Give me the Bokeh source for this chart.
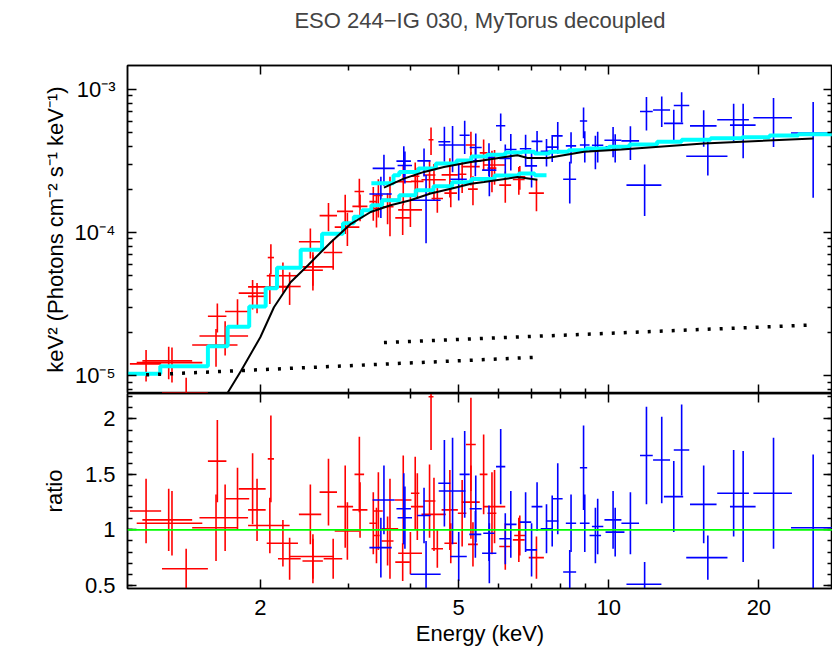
from bokeh.plotting import figure
from bokeh.layouts import column
from bokeh.models import Range1d, LogAxis, LinearAxis, FixedTicker, CustomJSTickFormatter, Span, Title
from bokeh.embed import file_html
from bokeh.resources import INLINE

FONT = "Liberation Sans"

# ---------------- data ----------------
# red data set: energy (keV), half bin width, ratio, ratio error, model level in the bin
red_e = [1.18, 1.31, 1.33, 1.42, 1.64, 1.63, 1.70, 1.80, 1.93, 1.97, 2.09, 2.10, 2.22, 2.29, 2.52,
         2.55, 2.55, 2.74, 2.80, 2.96, 2.99, 3.16, 3.17, 3.37, 3.42, 3.45, 3.60, 3.64, 3.86, 3.87,
         4.00, 4.09, 4.13, 4.37, 4.40, 4.46, 4.53, 4.80, 4.82, 5.08, 5.29, 5.29, 5.34, 5.61, 5.83,
         5.90, 6.20, 6.60, 6.63, 7.16]
red_de = [0.085, 0.15, 0.20, 0.15, 0.07, 0.17, 0.19, 0.10, 0.12, 0.08, 0.20, 0.03, 0.16, 0.12, 0.13,
          0.26, 0.12, 0.11, 0.12, 0.11, 0.17, 0.07, 0.11, 0.06, 0.05, 0.07, 0.10, 0.14, 0.13, 0.15,
          0.22, 0.08, 0.12, 0.12, 0.05, 0.25, 0.12, 0.18, 0.14, 0.10, 0.22, 0.12, 0.12, 0.10, 0.12,
          0.30, 0.17, 0.18, 0.17, 0.25]
red_ratio = [1.17, 1.09, 1.06, 0.65, 1.62, 1.02, 1.11, 1.28, 1.37, 1.18, 1.04, 1.64, 0.88, 0.74, 1.14,
             0.76, 0.72, 1.34, 0.74, 1.21, 0.99, 1.50, 1.18, 1.06, 0.95, 1.17, 0.90, 1.01, 0.71, 1.27,
             0.79, 1.33, 1.21, 1.26, 2.20, 1.14, 0.83, 1.18, 0.88, 1.15, 1.25, 1.77, 0.87, 1.50, 1.15,
             1.21, 0.85, 0.91, 0.95, 0.75]
red_dr = [0.29, 0.28, 0.29, 0.18, 0.37, 0.30, 0.30, 0.28, 0.32, 0.28, 0.25, 0.39, 0.21, 0.19, 0.27,
          0.20, 0.20, 0.30, 0.18, 0.37, 0.26, 0.34, 0.25, 0.28, 0.25, 0.35, 0.22, 0.45, 0.17, 0.40,
          0.19, 0.33, 0.30, 0.33, 0.48, 0.33, 0.17, 0.36, 0.18, 0.30, 0.33, 0.42, 0.20, 0.36, 0.37,
          0.33, 0.21, 0.20, 0.18, 0.19]
red_model = [1.03e-5, 1.16e-5, 1.16e-5, 1.16e-5, 1.60e-5, 1.60e-5, 1.70e-5, 2.19e-5, 2.75e-5, 3.03e-5,
             4.00e-5, 4.07e-5, 5.66e-5, 5.66e-5, 7.56e-5, 7.56e-5, 7.56e-5, 9.79e-5, 9.79e-5, 1.16e-4,
             1.10e-4, 1.29e-4, 1.29e-4, 1.55e-4, 1.55e-4, 1.55e-4, 1.68e-4, 1.68e-4, 1.78e-4, 1.78e-4,
             1.82e-4, 1.86e-4, 1.88e-4, 2.00e-4, 2.02e-4, 2.05e-4, 2.08e-4, 2.14e-4, 2.14e-4, 2.22e-4,
             2.31e-4, 2.31e-4, 2.31e-4, 2.40e-4, 2.45e-4, 2.45e-4, 2.52e-4, 2.58e-4, 2.58e-4, 2.51e-4]

# blue data set
blue_e = [3.49, 3.54, 3.88, 3.90, 4.26, 4.30, 4.68, 4.86, 5.00, 5.14, 5.40, 5.41, 5.75, 5.76, 6.07,
          6.20, 6.36, 6.81, 7.00, 7.18, 7.50, 7.70, 7.90, 8.35, 8.40, 8.90, 8.95, 9.40, 9.50, 10.2,
          10.3, 11.05, 11.8, 11.9, 12.77, 13.5, 14.0, 15.5, 15.8, 17.8, 18.6, 21.4, 25.7]
blue_de = [0.18, 0.18, 0.13, 0.13, 0.13, 0.30, 0.13, 0.30, 0.19, 0.12, 0.15, 0.15, 0.15, 0.19, 0.13,
           0.17, 0.17, 0.18, 0.18, 0.18, 0.20, 0.22, 0.18, 0.25, 0.20, 0.15, 0.20, 0.25, 0.25, 0.40,
           0.45, 0.45, 0.95, 0.35, 0.50, 0.60, 0.50, 0.95, 1.50, 1.30, 1.10, 1.90, 2.50]
blue_ratio = [0.84, 1.27, 1.19, 1.11, 1.13, 0.60, 1.42, 1.35, 0.76, 1.50, 0.96, 1.19, 0.97, 0.79, 1.57,
              0.92, 1.05, 1.07, 0.82, 1.21, 1.01, 1.08, 1.28, 0.62, 1.06, 1.56, 1.06, 0.95, 1.03, 1.09,
              0.98, 1.06, 0.51, 1.67, 1.63, 1.30, 1.72, 1.23, 0.75, 1.33, 1.21, 1.33, 1.02]
blue_dr = [0.27, 0.31, 0.32, 0.28, 0.25, 0.30, 0.39, 0.48, 0.22, 0.39, 0.21, 0.30, 0.25, 0.27, 0.34,
           0.23, 0.30, 0.27, 0.24, 0.22, 0.22, 0.23, 0.32, 0.20, 0.26, 0.38, 0.26, 0.25, 0.25, 0.26,
           0.22, 0.28, 0.20, 0.44, 0.39, 0.32, 0.41, 0.35, 0.20, 0.39, 0.50, 0.50, 0.66]
blue_model = [2.21e-4, 2.21e-4, 2.65e-4, 2.65e-4, 2.80e-4, 2.80e-4, 3.03e-4, 3.03e-4, 3.10e-4, 3.19e-4,
              3.30e-4, 3.30e-4, 3.45e-4, 3.45e-4, 3.55e-4, 3.58e-4, 3.62e-4, 3.60e-4, 3.56e-4, 3.58e-4,
              3.66e-4, 3.66e-4, 3.70e-4, 3.80e-4, 3.80e-4, 3.86e-4, 3.86e-4, 3.95e-4, 3.95e-4, 4.05e-4,
              4.05e-4, 4.12e-4, 4.20e-4, 4.20e-4, 4.41e-4, 4.45e-4, 4.49e-4, 4.52e-4, 4.55e-4, 4.61e-4,
              4.65e-4, 4.76e-4, 4.86e-4]

# folded model (cyan steps): bin left edges and levels
red_step_e = [1.08, 1.26, 1.57, 1.72, 1.90, 2.05, 2.16, 2.41, 2.66, 2.93, 3.08, 3.20, 3.34, 3.51,
              3.80, 4.10, 4.45, 4.85, 5.30, 5.90, 6.60, 7.10, 7.50]
red_step_f = [1.03e-5, 1.16e-5, 1.60e-5, 2.19e-5, 3.03e-5, 4.07e-5, 5.66e-5, 7.56e-5, 9.79e-5, 1.16e-4,
              1.29e-4, 1.43e-4, 1.55e-4, 1.68e-4, 1.82e-4, 1.97e-4, 2.10e-4, 2.24e-4, 2.36e-4, 2.50e-4,
              2.58e-4, 2.51e-4, 2.51e-4]
blue_step_e = [3.34, 3.70, 3.80, 4.15, 4.50, 4.95, 5.30, 5.70, 6.20, 6.70, 7.10, 7.60, 8.30, 9.00,
               10.0, 11.0, 12.5, 14.0, 16.0, 18.5, 21.0, 24.0, 28.2]
blue_step_f = [2.21e-4, 2.51e-4, 2.65e-4, 2.80e-4, 3.03e-4, 3.19e-4, 3.40e-4, 3.50e-4, 3.62e-4, 3.66e-4,
               3.56e-4, 3.66e-4, 3.76e-4, 3.86e-4, 3.98e-4, 4.12e-4, 4.30e-4, 4.45e-4, 4.55e-4, 4.63e-4,
               4.76e-4, 4.86e-4, 4.86e-4]

# black model components (solid)
red_comp_e = [1.70, 1.72, 1.83, 2.00, 2.13, 2.30, 2.49, 2.77, 3.04, 3.33, 3.65, 4.00, 4.39, 4.82, 5.29,
              5.62, 6.56, 7.19]
red_comp_f = [7.0e-6, 7.57e-6, 1.08e-5, 1.85e-5, 3.0e-5, 4.49e-5, 5.88e-5, 8.55e-5, 1.15e-4, 1.39e-4,
              1.55e-4, 1.68e-4, 1.87e-4, 2.02e-4, 2.19e-4, 2.25e-4, 2.44e-4, 2.34e-4]
blue_comp_e = [3.54, 3.88, 4.26, 4.67, 5.29, 5.62, 6.56, 6.87, 7.53, 8.92, 10.6, 15.5, 25.75]
blue_comp_f = [2.06e-4, 2.38e-4, 2.65e-4, 2.87e-4, 3.11e-4, 3.20e-4, 3.47e-4, 3.32e-4, 3.32e-4, 3.66e-4,
               3.80e-4, 4.19e-4, 4.54e-4]

# dotted model components
red_dot_e = [1.18, 7.14]
red_dot_f = [1.01e-5, 1.34e-5]
blue_dot_e = [3.54, 25.2]
blue_dot_f = [1.70e-5, 2.25e-5]

x_major = [2, 5, 10, 20]
x_minor = [3, 4, 6, 7, 8, 9]
y_major = [1e-5, 1e-4, 1e-3]
y_minor = [k * 10.0 ** ex for ex in (-6, -5, -4, -3) for k in range(2, 10)]
r_major = [0.5, 1, 1.5, 2]
r_minor = [round(0.5 + 0.1 * i, 1) for i in range(18)]

# ---------------- derived ----------------
red_f = [m * r for m, r in zip(red_model, red_ratio)]
red_df = [m * d for m, d in zip(red_model, red_dr)]
blue_f = [m * r for m, r in zip(blue_model, blue_ratio)]
blue_df = [m * d for m, d in zip(blue_model, blue_dr)]


def style_axis(ax, labels=True):
    ax.major_tick_in = 9
    ax.major_tick_out = 0
    ax.minor_tick_in = 5
    ax.minor_tick_out = 0
    ax.axis_line_width = 1.5
    ax.axis_line_color = "black"
    ax.major_tick_line_width = 1.5
    ax.minor_tick_line_width = 1.5
    ax.major_tick_line_color = "black"
    ax.minor_tick_line_color = "black"
    ax.major_label_text_font = FONT
    ax.major_label_text_color = "black"
    ax.axis_label_text_font = FONT
    ax.axis_label_text_font_size = "22px"
    ax.axis_label_text_font_style = "normal"
    ax.axis_label_text_color = "black"
    if labels:
        ax.major_label_text_font_size = "22px"
    else:
        ax.major_label_text_font_size = "0px"
        ax.major_label_standoff = 0
        ax.formatter = CustomJSTickFormatter(code="return '';")


x_range = Range1d(1.083, 28.1)

p1 = figure(width=832, height=393, x_axis_type="log", y_axis_type="log",
            x_range=x_range, y_range=Range1d(7.48e-6, 1.47e-3), title=None,
            x_axis_location=None, output_backend="svg", toolbar_location=None,
            min_border_left=127, min_border_right=0, min_border_top=65, min_border_bottom=0)
p1.outline_line_color = "black"
p1.outline_line_width = 1.5
p1.grid.grid_line_color = None
p1.background_fill_color = "white"
p1.border_fill_color = "white"

yax = p1.yaxis[0]
yax.ticker = FixedTicker(ticks=y_major, minor_ticks=y_minor)
yax.formatter = CustomJSTickFormatter(code="""
const e = Math.round(Math.log10(tick));
if (e == -3) { return '10\u207b\u00b3'; }
if (e == -4) { return '10\u207b\u2074'; }
return '10\u207b\u2075';
""")
yax.axis_label = "keV\u00b2 (Photons cm\u207b\u00b2 s\u207b\u00b9 keV\u207b\u00b9)"
style_axis(yax)
yax.major_label_standoff = 12
yax.axis_label_standoff = 4

for loc in ("below", "above"):
    ax = LogAxis(ticker=FixedTicker(ticks=x_major, minor_ticks=x_minor))
    style_axis(ax, labels=False)
    p1.add_layout(ax, loc)
ax = LogAxis(ticker=FixedTicker(ticks=y_major, minor_ticks=y_minor))
style_axis(ax, labels=False)
p1.add_layout(ax, "right")

# blank spacer between frame and title, then the title itself
p1.add_layout(Title(text=" ", text_font=FONT, text_font_size="22px", standoff=5), "above")
p1.add_layout(Title(text="ESO 244\u2212IG 030, MyTorus decoupled", align="center",
                    text_font=FONT, text_font_size="22px", text_font_style="normal",
                    standoff=2), "above")

# data crosses
p1.segment(x0=[e - d for e, d in zip(red_e, red_de)], y0=red_f,
           x1=[e + d for e, d in zip(red_e, red_de)], y1=red_f, line_color="#ff0000", line_width=1.6)
p1.segment(x0=red_e, y0=[f - d for f, d in zip(red_f, red_df)],
           x1=red_e, y1=[f + d for f, d in zip(red_f, red_df)], line_color="#ff0000", line_width=1.6)
p1.segment(x0=[e - d for e, d in zip(blue_e, blue_de)], y0=blue_f,
           x1=[e + d for e, d in zip(blue_e, blue_de)], y1=blue_f, line_color="#0000ff", line_width=1.6)
p1.segment(x0=blue_e, y0=[f - d for f, d in zip(blue_f, blue_df)],
           x1=blue_e, y1=[f + d for f, d in zip(blue_f, blue_df)], line_color="#0000ff", line_width=1.6)

# models
p1.step(red_step_e, red_step_f, mode="after", line_color="#00ffff", line_width=4)
p1.step(blue_step_e, blue_step_f, mode="after", line_color="#00ffff", line_width=4)
p1.line(red_comp_e, red_comp_f, line_color="black", line_width=2)
p1.line(blue_comp_e, blue_comp_f, line_color="black", line_width=2)
p1.line(red_dot_e, red_dot_f, line_color="black", line_width=3.5, line_dash="3 9")
p1.line(blue_dot_e, blue_dot_f, line_color="black", line_width=3.5, line_dash="3 9")

# ---------------- ratio panel ----------------
p2 = figure(width=832, height=255, x_axis_type="log",
            x_range=x_range, y_range=Range1d(0.472, 2.229),
            output_backend="svg", toolbar_location=None,
            min_border_left=127, min_border_right=0, min_border_top=0, min_border_bottom=59)
p2.outline_line_color = "black"
p2.outline_line_width = 1.5
p2.grid.grid_line_color = None
p2.background_fill_color = "white"
p2.border_fill_color = "white"

xax = p2.xaxis[0]
xax.ticker = FixedTicker(ticks=x_major, minor_ticks=x_minor)
xax.formatter = CustomJSTickFormatter(code="return String(tick);")
xax.axis_label = "Energy (keV)"
style_axis(xax)
xax.major_label_standoff = 11
xax.axis_label_standoff = 3

rax = p2.yaxis[0]
rax.ticker = FixedTicker(ticks=r_major, minor_ticks=r_minor)
rax.formatter = CustomJSTickFormatter(code="return String(tick);")
rax.axis_label = "ratio"
style_axis(rax)
rax.major_label_standoff = 12
rax.axis_label_standoff = 15

ax = LogAxis(ticker=FixedTicker(ticks=x_major, minor_ticks=x_minor))
style_axis(ax, labels=False)
p2.add_layout(ax, "above")
ax = LinearAxis(ticker=FixedTicker(ticks=r_major, minor_ticks=r_minor))
style_axis(ax, labels=False)
p2.add_layout(ax, "right")

p2.segment(x0=[e - d for e, d in zip(red_e, red_de)], y0=red_ratio,
           x1=[e + d for e, d in zip(red_e, red_de)], y1=red_ratio, line_color="#ff0000", line_width=1.6)
p2.segment(x0=red_e, y0=[r - d for r, d in zip(red_ratio, red_dr)],
           x1=red_e, y1=[r + d for r, d in zip(red_ratio, red_dr)], line_color="#ff0000", line_width=1.6)
p2.segment(x0=[e - d for e, d in zip(blue_e, blue_de)], y0=blue_ratio,
           x1=[e + d for e, d in zip(blue_e, blue_de)], y1=blue_ratio, line_color="#0000ff", line_width=1.6)
p2.segment(x0=blue_e, y0=[r - d for r, d in zip(blue_ratio, blue_dr)],
           x1=blue_e, y1=[r + d for r, d in zip(blue_ratio, blue_dr)], line_color="#0000ff", line_width=1.6)
p2.add_layout(Span(location=1, dimension="width", line_color="#00ff00", line_width=1.6))

layout = column(p1, p2, spacing=0)
open("out.html", "w").write(file_html(layout, INLINE, title="ESO 244-IG 030"))
